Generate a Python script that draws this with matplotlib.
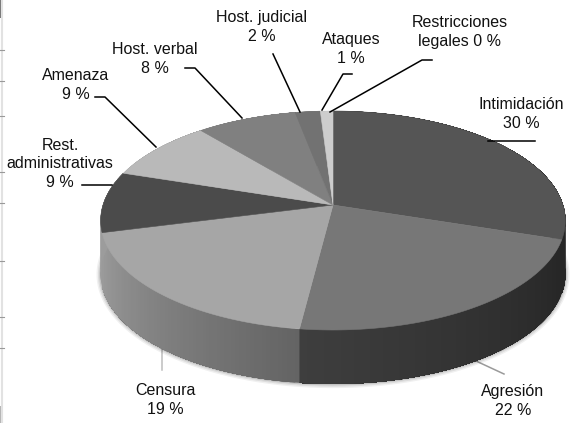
import matplotlib
matplotlib.use("Agg")
import matplotlib.pyplot as plt
import numpy as np

labels = ["Intimidación\n30 %", "Agresión\n22 %", "Censura\n19 %", "Rest.\nadministrativas\n9 %",
          "Amenaza\n9 %", "Host. verbal\n8 %", "Host. judicial\n2 %", "Ataques\n1 %", "Restricciones\nlegales 0 %"]
values = [30, 22, 19, 9, 9, 8, 2, 1, 0]
top_colors = ["#555555", "#777777", "#a6a6a6", "#4b4b4b", "#b9b9b9", "#808080", "#727272", "#cdcdcd", "#cdcdcd"]
# colour of the rim at the start and end of each slice
side_from = ["#2a2a2a", "#262626", "#646464", "#9c9c9c", "#9c9c9c", "#808080", "#808080", "#808080", "#808080"]
side_to = ["#262626", "#3e3e3e", "#9c9c9c", "#9c9c9c", "#9c9c9c", "#808080", "#808080", "#808080", "#808080"]

label_pos = [(521, 114), (513, 401), (165, 400), (60, 164), (76, 85), (155, 59), (262, 27), (351, 49), (460, 32)]
leaders = [
    ([488, 535], [141, 141], "black"),
    ([476, 504], [361, 374], "#9a9a9a"),
    ([162, 162], [348, 370], "#bdbdbd"),
    ([82, 112], [185, 185], "black"),
    ([95, 105, 156], [97, 97, 147], "black"),
    ([185, 195, 242], [68, 68, 118], "black"),
    ([273, 300], [54, 112], "black"),
    ([352, 343, 322], [74, 74, 110], "black"),
    ([432, 422, 330], [60, 60, 112], "black"),
]
edge_ticks = [50, 81, 116, 172, 203, 261, 317, 348]

# pie centre, radius and perspective in pixels
cx, cy = 333, 205
bx, by = 230, 107.3
persp = 0.1416
depth = 54


def project(theta):
    u, v = np.sin(theta), np.cos(theta)
    w = 1 + persp * v
    return cx + bx * u / w, cy - by * v / w


def hex2rgb(c):
    return np.array(matplotlib.colors.to_rgb(c))


plt.rcParams['font.family'] = ['Liberation Sans', 'DejaVu Sans']
fig = plt.figure(figsize=(5.7, 4.23), dpi=100)
ax = fig.add_axes([0, 0, 1, 1])
ax.set_xlim(0, 570)
ax.set_ylim(423, 0)
ax.axis("off")

# left margin remains of the page
ax.plot([2, 2], [0, 423], color="#e2e2e2", lw=1.5)
ax.fill([0, 3, 3, 0], [0, 0, 18, 18], color="#777777", lw=0)
ax.fill([0, 3, 3, 0], [406, 406, 423, 423], color="#b5b5b5", lw=0)
for y in edge_ticks:
    ax.plot([0, 4], [y, y], color="#999999", lw=0.8)

ends = np.cumsum(values) / sum(values) * 2 * np.pi
starts = np.r_[0, ends[:-1]]

# soft shadow round the rim
t = np.linspace(np.pi * 0.35, np.pi * 1.62, 200)
sx, sy = project(t)
for lw, a in [(6, 0.06), (4, 0.08), (2, 0.12)]:
    ax.plot(sx, sy + depth, color="black", lw=lw, alpha=a, solid_capstyle="round")

# rim, each strip runs on to the end of its slice so no seams show
for i in range(len(values)):
    if values[i] == 0:
        continue
    n = max(int(values[i] * 4), 2)
    edges = np.linspace(starts[i], ends[i], n + 1)
    c0, c1 = hex2rgb(side_from[i]), hex2rgb(side_to[i])
    for j in range(n):
        x, y = project(np.linspace(edges[j], ends[i], 40))
        col = c0 + (c1 - c0) * j / max(n - 1, 1)
        ax.fill(np.r_[x, x[::-1]], np.r_[y, y[::-1] + depth], color=col, lw=0, zorder=2)

# top face
for i in range(len(values)):
    if values[i] == 0:
        continue
    t = np.linspace(starts[i], ends[i], 80)
    x, y = project(t)
    ax.fill(np.r_[cx, x], np.r_[cy, y], color=top_colors[i], lw=0.4, ec=top_colors[i], zorder=3)

for lx, ly, col in leaders:
    ax.plot(lx, ly, color=col, lw=1.1, zorder=4 if col == "black" else 1)

for lab, (x, y) in zip(labels, label_pos):
    ax.text(x, y, lab, ha="center", va="center", fontsize=11.5, color="#111111", linespacing=1.3, zorder=5)

fig.savefig("out.png", dpi=100)
